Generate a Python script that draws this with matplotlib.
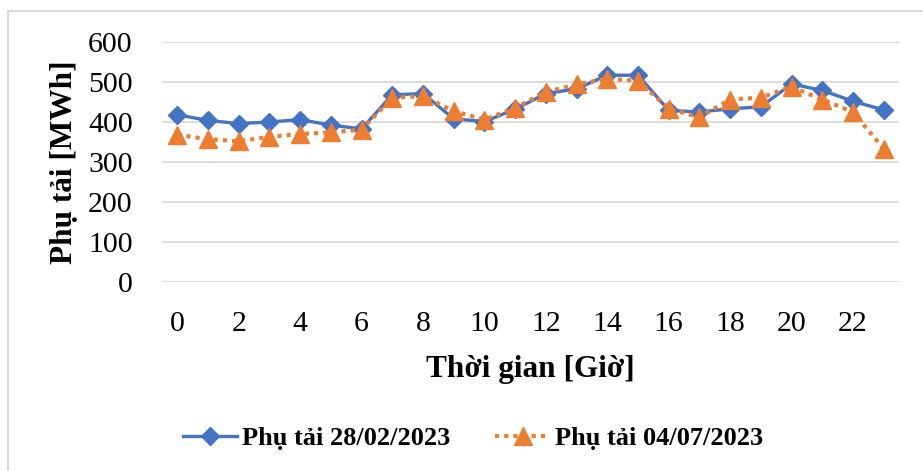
import matplotlib.pyplot as plt
from matplotlib.lines import Line2D

# Dữ liệu phụ tải theo giờ
hours = list(range(24))
load_feb = [418, 404, 396, 400, 406, 392, 383, 468, 471, 408, 401, 432,
            471, 483, 517, 517, 429, 425, 433, 438, 495, 479, 452, 430]
load_jul = [368, 357, 352, 363, 370, 374, 381, 461, 465, 427, 406, 435,
            475, 494, 508, 503, 433, 412, 456, 461, 488, 456, 425, 333]
x_ticks = list(range(0, 24, 2))
y_ticks = [0, 100, 200, 300, 400, 500, 600]
label_feb = 'Phụ tải 28/02/2023'
label_jul = 'Phụ tải 04/07/2023'

plt.rcParams['font.family'] = ['Liberation Serif', 'DejaVu Serif']

W, H = 923, 471
fig = plt.figure(figsize=(W / 100, H / 100), dpi=100)
ax = fig.add_axes([162 / W, 1 - 282 / H, 737 / W, 240 / H])

ax.plot(hours, load_feb, color='#4472C4', lw=2.4, marker='D', ms=9.3,
        label=label_feb, zorder=3)
ax.plot(hours, load_jul, color='#ED7D31', lw=3.0, ls=(0, (1, 1.2)),
        dash_capstyle='butt', marker='^', ms=12.5, label=label_jul, zorder=4)

ax.set_xlim(-0.5, 23.5)
ax.set_ylim(0, 600)
ax.set_xticks(x_ticks)
ax.set_yticks(y_ticks)
ax.tick_params(length=0, labelsize=21.5)
ax.tick_params(axis='x', pad=21)
ax.tick_params(axis='y', pad=21)

ax.grid(axis='y', color='#D9D9D9', lw=1.3)
ax.set_axisbelow(True)
for s in ax.spines.values():
    s.set_visible(False)

ax.text(-97 / 737, 0.5, 'Phụ tải [MWh]', transform=ax.transAxes, rotation=90,
        ha='center', va='center', fontsize=22.5, fontweight='bold')
ax.text(0.5, -88 / 240, 'Thời gian [Giờ]', transform=ax.transAxes,
        ha='center', va='center', fontsize=22.5, fontweight='bold')

fig.legend(loc='center', bbox_to_anchor=(473 / W, 1 - 438 / H), ncol=2,
           frameon=False, prop={'size': 19, 'weight': 'bold'}, numpoints=1,
           handlelength=2.05, handletextpad=0.2, columnspacing=1.7)

# khung biểu đồ (chỉ thấy cạnh trái và cạnh trên)
fig.add_artist(Line2D([8 / W, 8 / W, 1], [0, 1 - 11 / H, 1 - 11 / H],
                      transform=fig.transFigure, color='#D9D9D9', lw=1.5))

plt.savefig('out.png', dpi=100)
plt.close()
